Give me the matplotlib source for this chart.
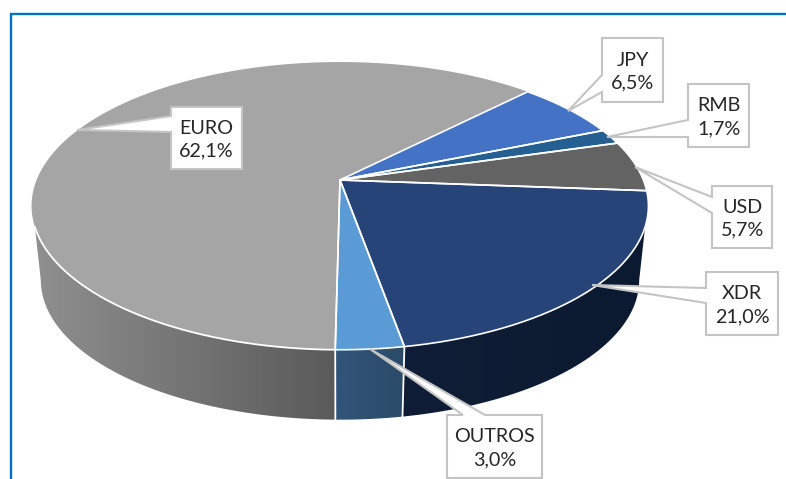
import numpy as np
import matplotlib
matplotlib.use("Agg")
import matplotlib.pyplot as plt
from matplotlib.patches import Polygon
from matplotlib.colors import LinearSegmentedColormap

# ---- data
categories = ["JPY", "RMB", "USD", "XDR", "OUTROS", "EURO"]
shares = [6.5, 1.7, 5.7, 21.0, 3.0, 62.1]

# ---- styles and layout
top_colors = ["#4472c4", "#255e91", "#636363", "#264478", "#5b9bd5", "#a5a5a5"]
wall_colors = {
    "XDR": ("#0f1d36", "#0c1a31"),
    "OUTROS": ("#31557a", "#2b4a68"),
    "EURO": ("#8f8f8f", "#5a5a5a"),
}
boxes = {
    "JPY": (602, 38, 663, 102),
    "RMB": (688, 84, 749, 147),
    "USD": (712, 186, 772, 248),
    "XDR": (706, 272, 778, 335),
    "OUTROS": (447, 415, 542, 478),
    "EURO": (171, 107, 242, 169),
}
leaders = {
    "JPY": [(568, 111), (602, 75), (602, 92)],
    "RMB": [(607, 137), (688, 120), (688, 137)],
    "USD": [(635, 167), (712, 197), (712, 213)],
    "XDR": [(592, 285), (706, 288), (706, 303)],
    "OUTROS": [(370, 349), (463, 415), (485, 415)],
    "EURO": [(77, 130), (171, 116), (171, 132)],
}
apex_x, apex_y = 340, 180
a, b, k = 303.4, 139.2, 0.18
base_scale, base_y = 0.97, 255
wall_limit = -18.6
base_limit = -10.4
start_angle = 45.7
GREY = "#c4c4c4"


def project(theta_deg):
    t = np.radians(theta_deg)
    w = 1 + k * np.sin(t)
    return apex_x + a * np.cos(t) / w, apex_y - b * np.sin(t) / w


def project_base(theta_deg):
    t = np.radians(theta_deg)
    w = 1 + k * np.sin(t)
    return apex_x + base_scale * a * np.cos(t) / w, base_y - base_scale * b * np.sin(t) / w


fig = plt.figure(figsize=(7.86, 4.79), dpi=100)
ax = fig.add_axes([0, 0, 1, 1])
ax.axis("off")

# frame
ax.plot([10.7, 10.7, 786], [479, 13.5, 13.5], color="#0070c0", lw=1.7,
        solid_joinstyle="miter", zorder=1)

ends = start_angle - np.cumsum(shares) * 3.6
starts = np.concatenate([[start_angle], ends[:-1]])
vis_hi, vis_lo = wall_limit, 180 - wall_limit - 360
base_hi, base_lo = base_limit, 180 - base_limit - 360

# walls with horizontal gradient
for name, s, e in zip(categories, starts, ends):
    if name not in wall_colors:
        continue
    hi, lo = min(s, vis_hi), max(e, vis_lo)
    if hi <= lo:
        continue
    th = np.linspace(lo, hi, 300)
    th_b = np.linspace(base_lo if lo == vis_lo else lo, base_hi if hi == vis_hi else hi, 300)
    xt, yt = project(th)
    xb, yb = project_base(th_b)
    poly_x = np.r_[xt, xb[::-1]]
    poly_y = np.r_[yt, yb[::-1]]
    patch = Polygon(np.c_[poly_x, poly_y], closed=True, facecolor="none", edgecolor="none", zorder=2)
    ax.add_patch(patch)
    cmap = LinearSegmentedColormap.from_list(name, wall_colors[name])
    grad = np.linspace(0, 1, 256).reshape(1, -1)
    im = ax.imshow(grad, cmap=cmap, aspect="auto", zorder=2, interpolation="bilinear",
                   extent=[poly_x.min(), poly_x.max(), poly_y.max(), poly_y.min()])
    im.set_clip_path(patch)

# wall separators
for s in starts:
    if vis_lo < s < vis_hi:
        x0, y0 = project(s)
        x1, y1 = project_base(s)
        ax.plot([x0, x1], [y0, y1], color="white", lw=1.3, zorder=3)

# top faces
for name, s, e, col in zip(categories, starts, ends, top_colors):
    th = np.linspace(s, e, 240)
    xs, ys = project(th)
    ax.fill(np.r_[apex_x, xs], np.r_[apex_y, ys], facecolor=col, edgecolor="none", zorder=4)
    if name != "EURO":
        ax.plot(np.r_[apex_x, xs, apex_x], np.r_[apex_y, ys, apex_y], color="white",
                lw=1.2, zorder=4.5)

# white rim only on the visible front of the grey slice, plus its two radii
th = np.linspace(ends[-2], vis_lo, 200)
xs, ys = project(th)
ax.plot(xs, ys, color="white", lw=1.3, zorder=4.6)
x0, y0 = project(starts[-1])
ax.plot([apex_x, x0], [apex_y, y0], color="white", lw=1.2, zorder=4.6)

# callout labels
for name, val in zip(categories, shares):
    x0, y0, x1, y1 = boxes[name]
    tip, p, q = leaders[name]
    if p[0] == x0:   # leader leaves through the left side
        outline = [(x0, y0), (x1, y0), (x1, y1), (x0, y1), q, tip, p]
    else:            # leader leaves through the top side
        outline = [(x0, y0), p, tip, q, (x1, y0), (x1, y1), (x0, y1)]
    ax.add_patch(Polygon(outline, closed=True, facecolor="white", edgecolor=GREY,
                         lw=1.5, joinstyle="miter", zorder=6))
    ax.text((x0 + x1) / 2, (y0 + y1) / 2 + 1.5, f"{name}\n{val:.1f}%".replace(".", ","),
            ha="center", va="center", fontsize=14.2, family="Lato", color="#262626",
            linespacing=1.42, zorder=7)

ax.set_xlim(0, 786)
ax.set_ylim(479, 0)
fig.savefig("out.png", dpi=100)
